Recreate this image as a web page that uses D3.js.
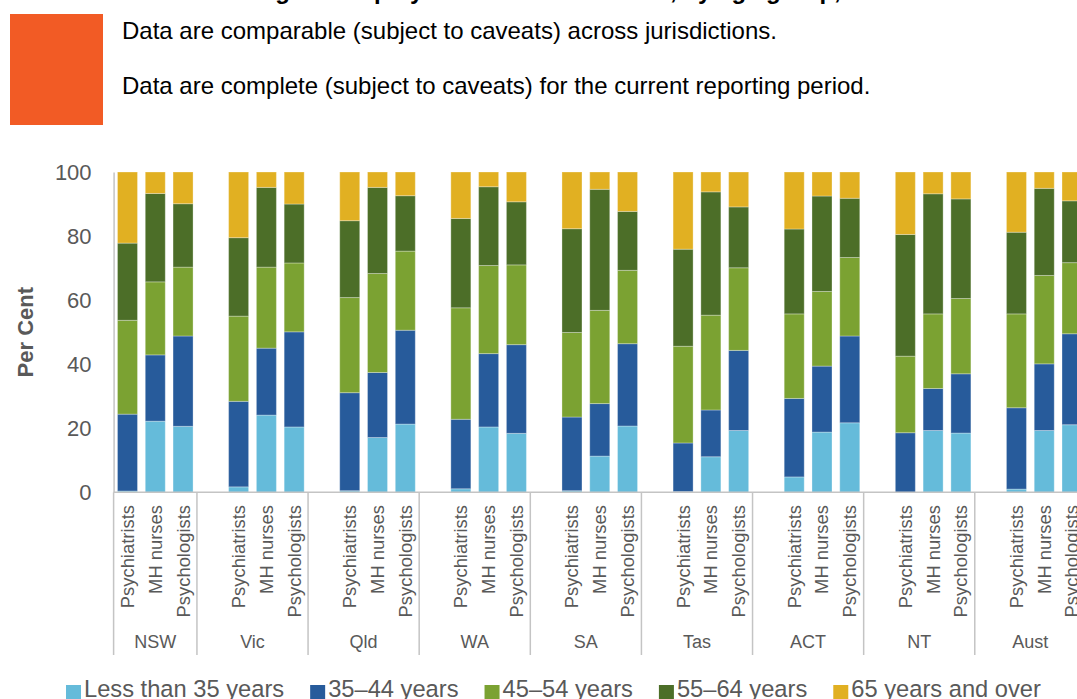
<!DOCTYPE html>
<html>
<head>
<meta charset="utf-8">
<script src="https://cdn.jsdelivr.net/npm/d3@7"></script>
<style>
  body { margin: 0; background: #fff; }
  svg { display: block; font-family: "Liberation Sans", Arial, sans-serif; }
</style>
</head>
<body>
<svg id="chart" width="1077" height="699"></svg>
<script>
// jurisdictions and professions (one bar per profession in each jurisdiction)
const JURISDICTIONS = ["NSW", "Vic", "Qld", "WA", "SA", "Tas", "ACT", "NT", "Aust"];
const PROFESSIONS = ["Psychiatrists", "MH nurses", "Psychologists"];
const AGE_GROUPS = ["Less than 35 years", "35–44 years", "45–54 years", "55–64 years", "65 years and over"];
const Y_TICKS = [0, 20, 40, 60, 80, 100];

// per cent, ordered NSW (Psychiatrists, MH nurses, Psychologists), Vic, ... Aust
const under35 = [0.4, 22.2, 20.6, 1.7, 24.1, 20.4, 0.5, 17.1, 21.3, 1.1, 20.4, 18.4, 0.5, 11.3, 20.7,
                 0.2, 11.1, 19.3, 4.8, 18.8, 21.7, 0.0, 19.3, 18.5, 1.0, 19.3, 21.1];
const age35to44 = [24.0, 20.7, 28.2, 26.7, 20.9, 29.7, 30.6, 20.3, 29.3, 21.7, 22.9, 27.7, 23.0, 16.4, 25.7,
                   15.2, 14.6, 25.0, 24.5, 20.6, 27.1, 18.6, 13.1, 18.5, 25.4, 20.8, 28.4];
const age45to54 = [29.3, 22.8, 21.5, 26.6, 25.3, 21.5, 29.7, 30.9, 24.7, 34.8, 27.5, 24.9, 26.4, 29.1, 22.9,
                   30.2, 29.6, 25.8, 26.4, 23.3, 24.5, 23.9, 23.3, 23.5, 29.3, 27.6, 22.2];
const age55to64 = [24.1, 27.6, 19.8, 24.5, 24.9, 18.4, 24.0, 26.9, 17.3, 27.9, 24.6, 19.7, 32.4, 37.8, 18.4,
                   30.3, 38.5, 19.0, 26.5, 29.8, 18.5, 38.0, 37.5, 31.1, 25.5, 27.2, 19.3];
const age65plus = [22.2, 6.7, 9.9, 20.5, 4.8, 10.0, 15.2, 4.8, 7.4, 14.5, 4.6, 9.3, 17.7, 5.4, 12.3,
                   24.1, 6.2, 10.9, 17.8, 7.5, 8.2, 19.5, 6.8, 8.4, 18.8, 5.1, 9.0];

const SERIES = [under35, age35to44, age45to54, age55to64, age65plus];
const COLORS = ["#65bbda", "#275b9b", "#7ba232", "#4c6e28", "#e1b022"];

const svg = d3.select("#chart");
const textGrey = "#595959";
const axisGrey = "#c4c4c4";

// header: cut-off title, orange flag and the two notes
svg.append("text")
    .attr("x", 258).attr("y", -1)
    .attr("font-size", "24px").attr("font-weight", "bold").attr("fill", "#000")
    .text("Age of employed mental health staff, by age group, 2015");

svg.append("rect")
    .attr("x", 10).attr("y", 14).attr("width", 93).attr("height", 111)
    .attr("fill", "#f25b25");

svg.append("text").attr("x", 122).attr("y", 39)
    .attr("font-size", "24px").attr("fill", "#000")
    .text("Data are comparable (subject to caveats) across jurisdictions.");
svg.append("text").attr("x", 122).attr("y", 94)
    .attr("font-size", "24px").attr("fill", "#000")
    .text("Data are complete (subject to caveats) for the current reporting period.");

// rows: NSW has 3 bars, later jurisdictions have an empty slot before their 3 bars
const rows = [];
const slots = [];
JURISDICTIONS.forEach((jur, j) => {
    if (j > 0) slots.push({ key: jur + "|gap", jur, gap: true });
    PROFESSIONS.forEach((prof, p) => {
        const i = j * PROFESSIONS.length + p;
        const row = { key: jur + "|" + prof, jur, prof };
        AGE_GROUPS.forEach((age, a) => { row[age] = SERIES[a][i]; });
        rows.push(row);
        slots.push({ key: row.key, jur, prof });
    });
});

const plotLeft = 113.6, slotW = 27.78;
const plotTop = 172, plotBottom = 492.3;

const x = d3.scaleBand()
    .domain(slots.map(d => d.key))
    .range([plotLeft, plotLeft + slots.length * slotW])
    .paddingInner(0.28)
    .paddingOuter(0.14);

const y = d3.scaleLinear().domain([0, 100]).range([plotBottom, plotTop]);

const slotLeft = key => x(key) - (x.step() - x.bandwidth()) / 2;

// y axis
const yAxis = svg.append("g")
    .attr("transform", `translate(${plotLeft},0)`)
    .call(d3.axisLeft(y).tickValues(Y_TICKS).tickSize(0).tickPadding(22));
yAxis.select(".domain").attr("stroke", axisGrey).attr("stroke-width", 1.5);
yAxis.selectAll(".tick text")
    .attr("font-size", "22px").attr("fill", textGrey)
    .attr("font-family", "'Liberation Sans', Arial, sans-serif");

svg.append("text")
    .attr("transform", `translate(33,${(plotTop + plotBottom) / 2}) rotate(-90)`)
    .attr("text-anchor", "middle")
    .attr("font-size", "22px").attr("font-weight", "bold").attr("fill", textGrey)
    .text("Per Cent");

// stacked bars
const stacked = d3.stack().keys(AGE_GROUPS)(rows);

svg.append("g").selectAll("g")
    .data(stacked)
    .join("g")
    .attr("fill", (d, i) => COLORS[i])
    .selectAll("rect")
    .data(d => d)
    .join("rect")
    .attr("x", d => x(d.data.key))
    .attr("width", x.bandwidth())
    .attr("y", d => y(d[1]))
    .attr("height", d => y(d[0]) - y(d[1]))
    .attr("stroke", "rgba(255,255,255,0.3)")
    .attr("stroke-width", 1);

// x axis line
svg.append("line")
    .attr("x1", plotLeft).attr("x2", x.range()[1])
    .attr("y1", plotBottom).attr("y2", plotBottom)
    .attr("stroke", axisGrey).attr("stroke-width", 1.5);

// jurisdiction separators
const groupEdges = JURISDICTIONS.map((jur, j) =>
    slotLeft(j === 0 ? jur + "|" + PROFESSIONS[0] : jur + "|gap"));
groupEdges.push(x.range()[1]);

svg.append("g").selectAll("line")
    .data(groupEdges)
    .join("line")
    .attr("x1", d => d).attr("x2", d => d)
    .attr("y1", plotBottom).attr("y2", 655)
    .attr("stroke", axisGrey).attr("stroke-width", 1.5);

// profession labels (rotated)
svg.append("g").selectAll("text")
    .data(rows)
    .join("text")
    .attr("transform", d => `translate(${x(d.key) + x.bandwidth() / 2},505) rotate(-90)`)
    .attr("dy", "0.35em")
    .attr("text-anchor", "end")
    .attr("font-size", "18.4px").attr("fill", textGrey)
    .text(d => d.prof);

// jurisdiction labels
svg.append("g").selectAll("text")
    .data(JURISDICTIONS)
    .join("text")
    .attr("x", (d, j) => (groupEdges[j] + groupEdges[j + 1]) / 2)
    .attr("y", 648)
    .attr("text-anchor", "middle")
    .attr("font-size", "18px").attr("fill", textGrey)
    .text(d => d);

// legend
const legend = svg.append("g");
let lx = 66;
AGE_GROUPS.forEach((age, i) => {
    legend.append("rect")
        .attr("x", lx).attr("y", 685).attr("width", 15).attr("height", 15)
        .attr("fill", COLORS[i]);
    const t = legend.append("text")
        .attr("x", lx + 18).attr("y", 697)
        .attr("font-size", "23.7px").attr("fill", textGrey)
        .text(age);
    lx += 18 + t.node().getComputedTextLength() + 26;
});
</script>
</body>
</html>
